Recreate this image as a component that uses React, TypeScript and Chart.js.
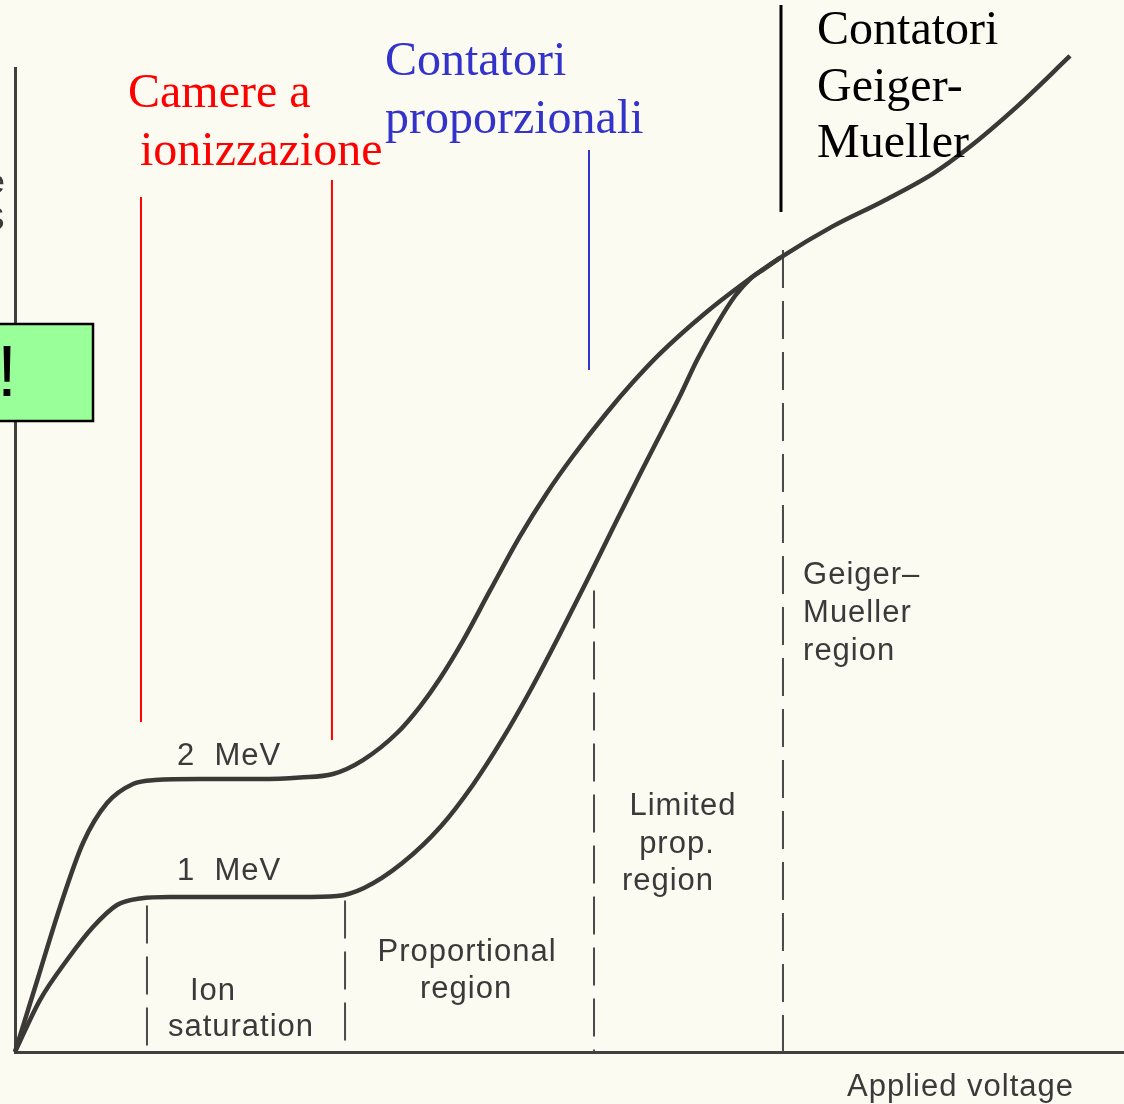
import { useEffect, useRef } from "react";
import { Chart, registerables } from "chart.js";

Chart.register(...registerables);

// ---- Data (applied voltage in % of axis, pulse height in % of axis) ----
const voltage2MeV = [0, 2.07, 4.06, 6.13, 8.3, 10.64, 12.62, 16.68, 22.09, 25.7, 28.67, 31.38, 34.45, 36.52, 38.32, 40.4, 42.83, 45.54, 47.97, 50.32, 53.38, 55.73, 58.16, 62.04, 65.64, 68.98, 73.76, 78.27, 82.78, 85.84, 90.35, 95.13];
const pulse2MeV = [0, 7.52, 14.74, 21.24, 25.3, 27.24, 27.64, 27.74, 27.74, 27.9, 28.25, 29.67, 32.42, 35.11, 37.96, 41.81, 46.88, 52.43, 56.82, 60.57, 64.99, 68.08, 70.97, 74.9, 78.07, 80.7, 83.93, 86.47, 89.27, 91.76, 96.08, 101.22];

const voltage1MeV = [0, 2.25, 4.69, 7.03, 9.2, 11.27, 13.98, 25.7, 29.04, 31.47, 34.9, 38.41, 41.3, 44.0, 46.44, 49.14, 51.58, 53.92, 56.36, 58.43, 59.96, 61.5, 63.3, 64.92, 66.28, 67.63, 68.98];
const pulse1MeV = [0, 5.28, 9.35, 12.7, 14.94, 15.6, 15.75, 15.75, 15.85, 16.67, 19.18, 22.94, 27.16, 31.89, 36.69, 42.48, 47.92, 53.25, 58.74, 63.29, 66.67, 70.33, 73.98, 76.83, 78.56, 79.63, 80.7];

const regionBoundaries = [11.9, 29.76, 52.21, 69.25];
const regionBoundaryTops = [14.9, 15.4, 46.9, 81.5];

const detectorMarkerX = [11.36, 28.58, 51.76, 69.07];
const detectorMarkerBottom = [33.54, 31.71, 69.31, 85.37];
const detectorMarkerTop = [86.89, 88.62, 91.67, 106.4];
const detectorMarkerColors = ["#ff0000", "#ff0000", "#3333cc", "#000000"];

const energyLabels = ["2  MeV", "1  MeV"];
const detectorLabels = [
  ["Camere a", "ionizzazione"],
  ["Contatori", "proporzionali"],
  ["Contatori", "Geiger-", "Mueller"],
];
const regionLabels = [
  ["Ion", "saturation"],
  ["Proportional", "region"],
  ["Limited", "prop.", "region"],
  ["Geiger\u2013", "Mueller", "region"],
];
const xAxisTitle = "Applied voltage";

// ---- Layout of annotations (data coordinates) ----
const energyLabelPos = [
  { x: 14.61, y: 29.17 },
  { x: 14.61, y: 17.48 },
];
const detectorLabelPos = [
  { x: [10.19, 11.27], y: [96.04, 90.14], color: "#ff0000" },
  { x: [33.36, 33.36], y: [99.29, 93.39], color: "#3333cc" },
  { x: [72.32, 72.32, 72.32], y: [102.44, 96.65, 90.96], color: "#000000" },
];
const regionLabelPos = [
  { x: [17.85, 20.38], y: [5.3, 1.6], align: "center" },
  { x: [40.76, 40.67], y: [9.25, 5.49], align: "center" },
  { x: [60.23, 59.69, 58.88], y: [24.09, 20.22, 16.46], align: "center" },
  { x: [71.06, 71.06, 71.06], y: [47.56, 43.7, 39.84], align: "left" },
];
const xAxisTitlePos = { x: 75.02, y: -4.47 };

const INK = "#3b3835";
const SCAN_TEXT = "#3a3a3a";

export default function App() {
  const canvasRef = useRef<HTMLCanvasElement | null>(null);

  useEffect(() => {
    const canvas = canvasRef.current;
    if (!canvas) return;

    const curve = (xs: number[], ys: number[]) => xs.map((x, i) => ({ x, y: ys[i] }));

    const datasets: any[] = [
      {
        data: curve(voltage2MeV, pulse2MeV),
        borderColor: INK,
        borderWidth: 4.5,
        pointRadius: 0,
        cubicInterpolationMode: "monotone",
        clip: false,
      },
      {
        data: curve(voltage1MeV, pulse1MeV),
        borderColor: INK,
        borderWidth: 4.5,
        pointRadius: 0,
        cubicInterpolationMode: "monotone",
        clip: false,
      },
    ];

    regionBoundaries.forEach((b, i) => {
      datasets.push({
        data: [
          { x: b, y: regionBoundaryTops[i] },
          { x: b, y: 0 },
        ],
        borderColor: "#4a4a4a",
        borderWidth: 2,
        borderDash: [38, 13],
        pointRadius: 0,
        tension: 0,
        clip: false,
      });
    });

    detectorMarkerX.forEach((x, i) => {
      datasets.push({
        data: [
          { x, y: detectorMarkerBottom[i] },
          { x, y: detectorMarkerTop[i] },
        ],
        borderColor: detectorMarkerColors[i],
        borderWidth: i === 3 ? 3 : 2,
        pointRadius: 0,
        tension: 0,
        clip: false,
      });
    });

    const background = {
      id: "paper",
      beforeDraw(chart: any) {
        const { ctx, width, height } = chart;
        ctx.save();
        ctx.fillStyle = "#fbfbf1";
        ctx.fillRect(0, 0, width, height);
        ctx.restore();
      },
    };

    const annotations = {
      id: "annotations",
      afterDatasetsDraw(chart: any) {
        const { ctx } = chart;
        const xs = chart.scales.x;
        const ys = chart.scales.y;
        const px = (v: number) => xs.getPixelForValue(v);
        const py = (v: number) => ys.getPixelForValue(v);
        ctx.save();
        ctx.textBaseline = "alphabetic";

        // scanned-figure labels
        ctx.fillStyle = SCAN_TEXT;
        ctx.font = '31px "Liberation Sans"';
        (ctx as any).letterSpacing = "1px";
        ctx.textAlign = "left";
        energyLabels.forEach((t, i) => {
          ctx.fillText(t, px(energyLabelPos[i].x), py(energyLabelPos[i].y));
        });
        regionLabels.forEach((lines, i) => {
          const pos = regionLabelPos[i];
          ctx.textAlign = pos.align as CanvasTextAlign;
          lines.forEach((t, j) => ctx.fillText(t, px(pos.x[j]), py(pos.y[j])));
        });
        ctx.textAlign = "left";
        ctx.fillText(xAxisTitle, px(xAxisTitlePos.x), py(xAxisTitlePos.y));

        // cut-off y-axis label fragments at the left edge
        ctx.font = '34px "Liberation Sans"';
        ctx.fillText("e", -14, 193);
        ctx.fillText("S", -18, 230);

        // detector-type annotations
        (ctx as any).letterSpacing = "0px";
        ctx.font = '48px "Liberation Serif"';
        detectorLabels.forEach((lines, i) => {
          const pos = detectorLabelPos[i];
          ctx.fillStyle = pos.color;
          lines.forEach((t, j) => ctx.fillText(t, px(pos.x[j]), py(pos.y[j])));
        });

        // green note box
        ctx.fillStyle = "#99ff99";
        ctx.fillRect(-4, 324, 97, 97);
        ctx.strokeStyle = "#000";
        ctx.lineWidth = 2.5;
        ctx.strokeRect(-4, 324, 97, 97);
        ctx.fillStyle = "#000";
        ctx.font = '72px "Liberation Sans"';
        ctx.textAlign = "center";
        ctx.fillText("!", 7, 396);
        ctx.restore();
      },
    };

    const chart = new Chart(canvas, {
      type: "line",
      data: { datasets },
      options: {
        responsive: false,
        animation: false,
        layout: { padding: { left: 15, right: 0, top: 68, bottom: 52 } },
        plugins: { legend: { display: false }, tooltip: { enabled: false } },
        scales: {
          x: {
            type: "linear",
            min: 0,
            max: 100,
            grid: { display: false, drawTicks: false },
            border: { display: true, color: "#404040", width: 3 },
            ticks: { display: false },
          },
          y: {
            type: "linear",
            min: 0,
            max: 100,
            grid: { display: false, drawTicks: false },
            border: { display: true, color: "#404040", width: 3 },
            ticks: { display: false },
          },
        },
      },
      plugins: [background, annotations],
    });

    return () => chart.destroy();
  }, []);

  return (
    <div style={{ position: "absolute", left: 0, top: 0, width: 1124, height: 1104, background: "#fbfbf1" }}>
      <canvas ref={canvasRef} width={1124} height={1104} style={{ display: "block" }} />
    </div>
  );
}
